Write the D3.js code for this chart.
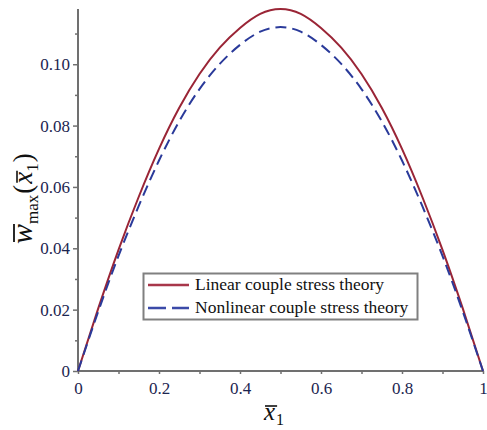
<!DOCTYPE html>
<html>
<head>
<meta charset="utf-8">
<script src="https://cdn.jsdelivr.net/npm/d3@7"></script>
<style>
  body { margin: 0; background: #fff; }
  svg text { font-family: "Liberation Serif", "Times New Roman", Tinos, "DejaVu Serif", serif; }
</style>
</head>
<body>
<svg id="chart" width="487" height="430"></svg>
<script>
// values
const xValues = [0, 0.05, 0.1, 0.15, 0.2, 0.25, 0.3, 0.35, 0.4, 0.45, 0.5,
                 0.55, 0.6, 0.65, 0.7, 0.75, 0.8, 0.85, 0.9, 0.95, 1];
const linearW = [0, 0.0204, 0.0395, 0.0568, 0.0724, 0.0858, 0.0968, 0.1054, 0.1118, 0.1164, 0.1180,
                 0.1164, 0.1118, 0.1054, 0.0968, 0.0858, 0.0724, 0.0568, 0.0395, 0.0204, 0];
const nonlinearW = [0, 0.0194, 0.0375, 0.0538, 0.0686, 0.0814, 0.0919, 0.1001, 0.1063, 0.1106, 0.1121,
                    0.1106, 0.1063, 0.1001, 0.0919, 0.0814, 0.0686, 0.0538, 0.0375, 0.0194, 0];
const xMajor = [0, 0.2, 0.4, 0.6, 0.8, 1];
const xMajorLabels = ["0", "0.2", "0.4", "0.6", "0.8", "1"];
const xMinor = [0.1, 0.3, 0.5, 0.7, 0.9];
const yMajor = [0, 0.02, 0.04, 0.06, 0.08, 0.10];
const yMajorLabels = ["0", "0.02", "0.04", "0.06", "0.08", "0.10"];
const yMinor = [0.01, 0.03, 0.05, 0.07, 0.09, 0.11];
const seriesNames = ["Linear couple stress theory", "Nonlinear couple stress theory"];

const svg = d3.select("#chart");
const plotLeft = 78, plotRight = 483, plotTop = 9, plotBottom = 371;
const axisColor = "#707070";
const labelColor = "#1c2550";
const serif = "'Liberation Serif', 'Times New Roman', Tinos, 'DejaVu Serif', serif";

const x = d3.scaleLinear().domain([0, 1]).range([plotLeft, plotRight]);
const y = d3.scaleLinear().domain([0, 0.118]).range([plotBottom, plotTop]);

// axes
const yAxis = svg.append("g").attr("transform", `translate(${plotLeft},0)`)
    .call(d3.axisLeft(y).tickValues(yMajor).tickSize(5).tickFormat((d, i) => yMajorLabels[i]));
const yAxisMinor = svg.append("g").attr("transform", `translate(${plotLeft},0)`)
    .call(d3.axisLeft(y).tickValues(yMinor).tickSize(3).tickFormat(""));
const xAxis = svg.append("g").attr("transform", `translate(0,${plotBottom})`)
    .call(d3.axisBottom(x).tickValues(xMajor).tickSize(3).tickPadding(8).tickFormat((d, i) => xMajorLabels[i]));
const xAxisMinor = svg.append("g").attr("transform", `translate(0,${plotBottom})`)
    .call(d3.axisBottom(x).tickValues(xMinor).tickSize(3).tickFormat(""));

[yAxis, yAxisMinor, xAxis, xAxisMinor].forEach(g => {
    g.attr("font-family", serif);
    g.select(".domain").remove();
    g.selectAll(".tick line").attr("stroke", axisColor).attr("stroke-width", 1.5);
    g.selectAll(".tick text").attr("fill", labelColor).style("font-size", "17px");
});
yAxis.selectAll(".tick text").attr("x", -8);

svg.append("line").attr("x1", plotLeft).attr("x2", plotLeft).attr("y1", plotTop).attr("y2", plotBottom)
    .attr("stroke", axisColor).attr("stroke-width", 2);
svg.append("line").attr("x1", plotLeft).attr("x2", plotRight).attr("y1", plotBottom).attr("y2", plotBottom)
    .attr("stroke", axisColor).attr("stroke-width", 2);

// curves
const line = d3.line().x((d, i) => x(xValues[i])).y(d => y(d)).curve(d3.curveNatural);

svg.append("path").datum(linearW).attr("d", line)
    .attr("fill", "none").attr("stroke", "#9a2536").attr("stroke-width", 2);
svg.append("path").datum(nonlinearW).attr("d", line)
    .attr("fill", "none").attr("stroke", "#2a3a9a").attr("stroke-width", 2)
    .attr("stroke-dasharray", "11,6");

// legend
const lg = svg.append("g");
lg.append("rect").attr("x", 143.5).attr("y", 273.5).attr("width", 274).attr("height", 46)
    .attr("fill", "#fff").attr("stroke", "#808080").attr("stroke-width", 2);
lg.append("line").attr("x1", 148).attr("x2", 189).attr("y1", 285).attr("y2", 285)
    .attr("stroke", "#a8374a").attr("stroke-width", 2.5);
lg.append("line").attr("x1", 148).attr("x2", 189).attr("y1", 308).attr("y2", 308)
    .attr("stroke", "#3b4aa8").attr("stroke-width", 2.5).attr("stroke-dasharray", "18,6");
seriesNames.forEach((name, i) => {
    lg.append("text").attr("x", 195).attr("y", 290 + i * 23)
        .attr("fill", "#111").style("font-size", "17.5px").text(name);
});

// x axis label
const xl = svg.append("g").attr("transform", "translate(264,420)");
const xt = xl.append("text").attr("fill", "#111").style("font-size", "25px").style("font-style", "italic").text("x");
const xw = xt.node().getComputedTextLength();
xl.append("text").attr("x", xw + 1).attr("y", 5).attr("fill", "#111").style("font-size", "16px").text("1");
xl.append("line").attr("x1", 1).attr("x2", xw + 2).attr("y1", -14).attr("y2", -14)
    .attr("stroke", "#111").attr("stroke-width", 1.6);

// y axis label (rotated)
const yl = svg.append("g").attr("transform", "translate(32,244) rotate(-90)");
let cx = 0;
const wt = yl.append("text").attr("x", cx).attr("fill", "#111").style("font-size", "30px").style("font-style", "italic").text("w");
const ww = wt.node().getComputedTextLength();
yl.append("line").attr("x1", cx + 2).attr("x2", cx + ww).attr("y1", -18).attr("y2", -18)
    .attr("stroke", "#111").attr("stroke-width", 1.8);
cx += ww;
const mt = yl.append("text").attr("x", cx).attr("y", 6).attr("fill", "#111").style("font-size", "17px").text("max");
cx += mt.node().getComputedTextLength() + 1;
const p1 = yl.append("text").attr("x", cx).attr("fill", "#111").style("font-size", "27px").text("(");
cx += p1.node().getComputedTextLength() + 1;
const xt2 = yl.append("text").attr("x", cx).attr("fill", "#111").style("font-size", "27px").style("font-style", "italic").text("x");
const xw2 = xt2.node().getComputedTextLength();
yl.append("line").attr("x1", cx + 1).attr("x2", cx + xw2 + 1).attr("y1", -15).attr("y2", -15)
    .attr("stroke", "#111").attr("stroke-width", 1.6);
cx += xw2;
const s1 = yl.append("text").attr("x", cx).attr("y", 6).attr("fill", "#111").style("font-size", "17px").text("1");
cx += s1.node().getComputedTextLength() + 1;
yl.append("text").attr("x", cx).attr("fill", "#111").style("font-size", "27px").text(")");
</script>
</body>
</html>
